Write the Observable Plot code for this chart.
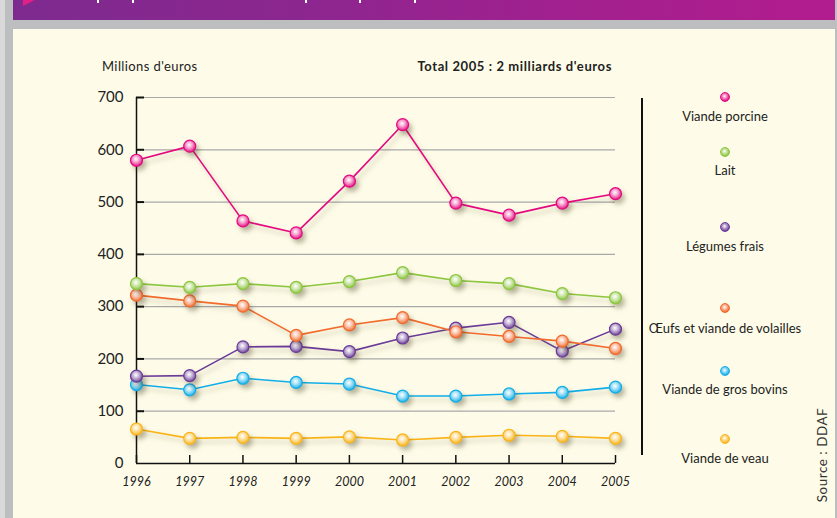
<!DOCTYPE html>
<html><head><meta charset="utf-8">
<script src="https://cdn.jsdelivr.net/npm/d3@7"></script>
<script src="https://cdn.jsdelivr.net/npm/@observablehq/plot@0.6"></script>
<style>
body{margin:0;background:#bdbec0;}
#page{position:relative;width:837px;height:518px;background:#bdbec0;overflow:hidden;font-family:Lato,"Open Sans",sans-serif;color:#222;}
#edge{position:absolute;left:0;top:0;width:5px;height:518px;background:#d9d9da;}
#banner{position:absolute;left:13px;top:0;width:822px;height:20px;background:linear-gradient(90deg,#7d2a8e 0%,#8c268f 35%,#a3208f 70%,#b21c8e 100%);}
#tri{position:absolute;left:23px;top:0;width:12px;height:6px;background:#e11f84;clip-path:polygon(0 0,100% 0,0 100%);}
.wt{position:absolute;top:0;width:1.5px;height:3px;background:#fff;}
#panel{position:absolute;left:13px;top:29px;width:822px;height:489px;background:#fefce8;}
#unit{position:absolute;left:102px;top:58px;font-size:13px;line-height:16px;letter-spacing:0.4px;}
#total{position:absolute;right:225px;top:58px;font-size:13px;line-height:16px;font-weight:bold;letter-spacing:0.6px;}
#chart{position:absolute;left:0;top:0;}
#lgline{position:absolute;left:641px;top:98px;width:1.5px;height:357px;background:#111;}
.ldot{position:absolute;width:10px;height:10px;border-radius:50%;box-sizing:border-box;}
.llab{position:absolute;width:200px;text-align:center;font-size:13px;line-height:16px;}
#source{position:absolute;left:822px;top:455px;font-size:13.5px;color:#333;letter-spacing:0.5px;transform:translate(-50%,-50%) rotate(-90deg);white-space:nowrap;}
</style></head><body>
<div id="page">
  <div id="edge"></div>
  <div id="banner"></div>
  <div id="tri"></div>
  <div id="panel"></div>
  <div id="unit">Millions d'euros</div>
  <div id="total">Total 2005 : 2 milliards d'euros</div>
  <div id="chart"></div>
  <div id="lgline"></div>
  <div id="legend"></div>
  <div id="source">Source : DDAF</div>
</div>
<script>
// ---- data ----
const years = [1996, 1997, 1998, 1999, 2000, 2001, 2002, 2003, 2004, 2005];
const yTicks = [0, 100, 200, 300, 400, 500, 600, 700];
const seriesNames = ["Viande porcine", "Lait", "Légumes frais", "Œufs et viande de volailles", "Viande de gros bovins", "Viande de veau"];
const porcine = [580, 607, 464, 441, 540, 648, 498, 475, 498, 516];
const lait    = [344, 337, 344, 337, 348, 365, 350, 344, 325, 317];
const legumes = [167, 168, 223, 224, 214, 240, 259, 270, 215, 257];
const oeufs   = [322, 311, 301, 245, 265, 279, 252, 243, 234, 220];
const bovins  = [151, 141, 163, 155, 152, 129, 129, 133, 136, 146];
const veau    = [66, 48, 50, 48, 51, 45, 50, 54, 52, 48];
const colors = ["#e5097f", "#8cc63e", "#6a3b97", "#f26a2c", "#12aee8", "#fbb418"];

// ---- build ----
const values = [porcine, lait, legumes, oeufs, bovins, veau];
const rows = values.flatMap((vals, i) => years.map((y, j) => ({serie: seriesNames[i], idx: i, year: y, value: vals[j]})));
const drawOrder = [5, 4, 2, 3, 1, 0];

// white banner ticks
[97, 132, 305, 359, 414].forEach(x => {
  const d = document.createElement("div"); d.className = "wt"; d.style.left = x + "px";
  document.getElementById("page").appendChild(d);
});

const W = 837, H = 518;
const marks = [
  Plot.ruleY(yTicks.filter(d => d > 0), {y: d => d, stroke: "#a9a9a9", strokeWidth: 1.2, insetLeft: 7}),
  Plot.tickY(yTicks.filter(d => d > 0), {y: d => d, stroke: "#111", strokeWidth: 2, insetRight: 471}),
  Plot.tickX(years, {x: d => d, stroke: "#111", strokeWidth: 1.5, insetTop: 358}),
  Plot.ruleX([years[0]], {stroke: "#111", strokeWidth: 1.5}),
  Plot.ruleY([0], {stroke: "#111", strokeWidth: 1.5}),
  Plot.axisY(yTicks, {tickSize: 0, tickPadding: 13, fontSize: 15, fill: "#222", label: null}),
  Plot.axisX(years, {tickSize: 0, tickPadding: 14, fontSize: 12.5, fontStyle: "italic", fill: "#222", tickFormat: d => String(d), label: null})
];
drawOrder.forEach(i => {
  const data = rows.filter(r => r.idx === i);
  marks.push(Plot.line(data, {x: "year", y: "value", stroke: colors[i], strokeWidth: 1.6}));
});
drawOrder.forEach(i => {
  const data = rows.filter(r => r.idx === i);
  marks.push(Plot.dot(data, {x: "year", y: "value", r: 6, fill: `url(#grad${i})`, stroke: colors[i], strokeWidth: 1.2}));
});

const chart = Plot.plot({
  width: W, height: H,
  marginLeft: 136, marginRight: 222, marginTop: 97, marginBottom: 55,
  x: {type: "linear", domain: [years[0], years[years.length - 1]]},
  y: {domain: [0, 700]},
  style: {background: "transparent", fontFamily: "Lato, 'Open Sans', sans-serif", overflow: "visible"},
  marks
});

// gradients
const svg = d3.select(chart);
const defs = svg.insert("defs", ":first-child");
colors.forEach((c, i) => {
  const g = defs.append("radialGradient").attr("id", "grad" + i).attr("cx", "45%").attr("cy", "40%").attr("r", "62%");
  g.append("stop").attr("offset", "0%").attr("stop-color", "#ffffff");
  g.append("stop").attr("offset", "45%").attr("stop-color", d3.interpolateRgb(c, "#fff")(0.6));
  g.append("stop").attr("offset", "100%").attr("stop-color", c);
});
svg.selectAll('g[aria-label="line"]').style("filter", "drop-shadow(3px 4px 2.5px rgba(70,60,30,0.28))");
svg.selectAll('g[aria-label="dot"]').style("filter", "drop-shadow(3px 4px 2.5px rgba(70,60,30,0.35))");
document.getElementById("chart").appendChild(chart);

// legend
const legendDotY = [97, 152, 227, 308, 371, 439];
const legendLabY = [116, 170, 246, 328, 389, 458];
const legendX = 725;
const lg = document.getElementById("legend");
seriesNames.forEach((name, i) => {
  const c = colors[i];
  const dot = document.createElement("div");
  dot.className = "ldot";
  dot.style.left = (legendX - 5) + "px";
  dot.style.top = (legendDotY[i] - 5) + "px";
  dot.style.background = `radial-gradient(circle at 45% 40%, #fff 0%, ${d3.interpolateRgb(c, "#fff")(0.55)} 30%, ${c} 75%)`;
  dot.style.border = `1px solid ${c}`;
  lg.appendChild(dot);
  const lab = document.createElement("div");
  lab.className = "llab";
  lab.textContent = name;
  lab.style.left = (legendX - 100) + "px";
  lab.style.top = (legendLabY[i] - 8) + "px";
  lg.appendChild(lab);
});
</script>
</body></html>
